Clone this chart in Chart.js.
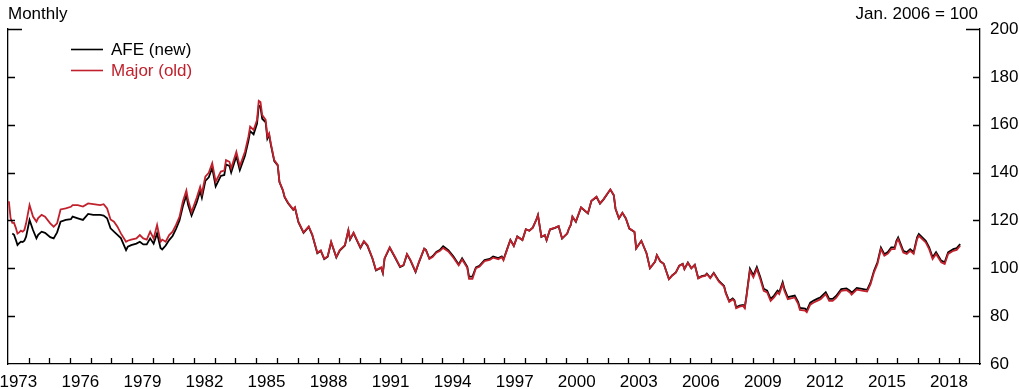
<!DOCTYPE html>
<html>
<head>
<meta charset="utf-8">
<script src="https://cdn.jsdelivr.net/npm/chart.js@4.4.1/dist/chart.umd.min.js"></script>
<style>
  html, body { margin: 0; padding: 0; background: #fff; }
  #wrap { position: relative; width: 1019px; height: 389px; }
</style>
</head>
<body>
<div id="wrap"><canvas id="chart" width="1019" height="389"></canvas></div>
<script>
'use strict';

/* ---- data (one line per year) ---- */
var months = [
  '1973-01','1973-02','1973-03','1973-04','1973-05','1973-06','1973-07','1973-08','1973-09','1973-10','1973-11',
  '1974-01','1974-03','1974-05','1974-06','1974-08','1974-10',
  '1975-01','1975-03','1975-05','1975-07','1975-10',
  '1976-01','1976-02','1976-05','1976-08','1976-11',
  '1977-02','1977-06','1977-08','1977-10','1977-12',
  '1978-02','1978-04','1978-06','1978-09','1978-10','1978-12',
  '1979-03','1979-05','1979-07','1979-09','1979-11',
  '1980-01','1980-03','1980-05','1980-06','1980-08','1980-10','1980-12',
  '1981-02','1981-04','1981-06','1981-08','1981-09','1981-11',
  '1982-02','1982-04','1982-05','1982-07','1982-09','1982-11',
  '1983-01','1983-04','1983-06','1983-07','1983-09','1983-10',
  '1984-01','1984-03','1984-06','1984-08','1984-09','1984-11',
  '1985-01','1985-02','1985-03','1985-04','1985-06','1985-07','1985-08','1985-09','1985-11',
  '1986-01','1986-02','1986-04','1986-05','1986-07','1986-10','1986-11',
  '1987-01','1987-04','1987-07','1987-09','1987-12',
  '1988-02','1988-04','1988-06','1988-08','1988-11',
  '1989-01','1989-04','1989-06','1989-07','1989-09','1989-11',
  '1990-01','1990-03','1990-05','1990-08','1990-10',
  '1991-01','1991-02','1991-03','1991-06','1991-09','1991-12',
  '1992-02','1992-04','1992-06','1992-09','1992-11',
  '1993-02','1993-03','1993-05','1993-07','1993-09','1993-11',
  '1994-01','1994-04','1994-07','1994-10','1994-12',
  '1995-03','1995-04','1995-06','1995-08','1995-10',
  '1996-01','1996-04','1996-06','1996-09','1996-11','1996-12',
  '1997-02','1997-04','1997-06','1997-08','1997-11',
  '1998-01','1998-03','1998-05','1998-07','1998-08','1998-10','1998-12',
  '1999-01','1999-03','1999-06','1999-08','1999-10',
  '2000-01','2000-02','2000-03','2000-04','2000-06','2000-09',
  '2001-01','2001-03','2001-06','2001-08','2001-10',
  '2002-02','2002-04','2002-05','2002-07','2002-09','2002-11',
  '2003-01','2003-04','2003-05','2003-08','2003-11',
  '2004-01','2004-04','2004-05','2004-07','2004-09','2004-12',
  '2005-02','2005-04','2005-06','2005-08','2005-09','2005-11',
  '2006-01','2006-03','2006-05','2006-07','2006-09','2006-10','2006-12',
  '2007-02','2007-05','2007-08','2007-09','2007-11',
  '2008-01','2008-02','2008-03','2008-05','2008-07','2008-08','2008-09','2008-11',
  '2009-01','2009-03','2009-05','2009-07','2009-09','2009-11',
  '2010-01','2010-03','2010-04','2010-06','2010-07','2010-09',
  '2011-01','2011-03','2011-04','2011-07','2011-08','2011-10','2011-12',
  '2012-02','2012-04','2012-07','2012-09','2012-11',
  '2013-01','2013-04','2013-07','2013-09','2013-10',
  '2014-01','2014-04','2014-07','2014-09','2014-11',
  '2015-01','2015-03','2015-05','2015-07','2015-09','2015-11','2015-12',
  '2016-01','2016-04','2016-06','2016-08','2016-10','2016-12',
  '2017-01','2017-03','2017-05','2017-07','2017-09','2017-11',
  '2018-02','2018-04','2018-06','2018-09','2018-11',
  '2019-01'
];

var afe = [
  null,null,114.5,114.0,112.0,109.7,110.5,111.1,111.0,111.5,113.2,
  120.2,116.0,112.5,114.0,115.3,114.8,
  113.0,112.5,115.0,119.5,120.2,
  120.5,121.6,120.9,120.2,122.7,
  122.3,122.3,122.0,120.9,116.7,
  115.3,114.0,112.6,107.6,109.0,109.7,
  110.3,111.1,110.0,110.0,112.5,
  110.3,114.6,108.5,107.9,109.5,111.8,113.5,
  116.5,120.0,126.0,130.5,126.5,122.0,
  127.5,132.3,129.5,136.5,138.0,142.0,
  134.2,138.6,139.0,143.4,142.8,140.0,
  146.8,141.0,147.0,153.3,157.3,156.0,
  160.5,168.0,167.5,162.5,161.0,154.2,155.8,151.7,144.8,
  143.0,136.0,132.5,129.7,127.2,124.4,125.3,
  119.3,114.8,117.3,114.0,106.3,
  107.3,103.8,104.8,110.9,104.5,
  107.4,109.5,115.8,112.0,114.7,111.6,
  108.5,111.2,109.5,104.0,99.1,
  100.2,98.0,104.0,108.6,104.6,100.5,
  101.2,105.8,103.3,98.4,102.6,
  108.2,107.7,104.1,105.1,106.8,107.6,
  109.2,107.6,104.9,101.6,104.2,
  100.6,96.5,96.5,100.4,101.0,
  103.4,103.9,104.9,104.3,105.0,103.7,
  107.8,111.9,109.4,113.3,111.8,
  116.3,115.7,117.0,120.2,122.2,113.1,113.8,
  111.7,116.2,116.9,117.6,112.4,
  114.5,116.6,118.0,121.5,119.4,125.4,
  122.9,128.1,129.8,127.0,128.7,
  132.9,130.5,124.9,120.8,123.1,120.8,
  116.6,115.2,108.3,111.5,106.3,
  100.0,102.8,105.5,102.9,101.9,95.5,
  97.1,98.3,101.1,101.9,99.7,102.4,
  100.0,101.5,95.9,96.7,97.0,97.8,96.0,
  98.1,94.7,92.6,89.8,86.3,
  87.4,86.7,83.7,84.4,84.7,83.7,88.6,99.8,
  97.0,100.5,96.3,91.4,90.7,87.2,
  88.6,90.7,90.0,94.2,91.4,87.9,
  88.6,85.9,83.4,83.1,82.4,85.6,86.5,
  87.2,87.9,90.0,87.2,87.2,
  88.4,91.3,91.6,90.6,89.7,
  91.8,91.4,91.0,94.1,99.0,
  102.5,108.7,105.9,106.8,108.7,108.7,111.5,
  112.9,107.3,106.7,108.0,106.7,112.9,
  114.3,112.9,111.5,108.7,104.6,106.7,
  103.2,102.5,106.7,108.0,108.4,
  110.1
];

var major = [
  128.0,121.0,119.0,119.0,117.0,114.5,115.0,115.7,115.3,116.0,118.8,
  126.4,121.6,119.5,121.0,122.3,121.6,
  118.8,117.4,118.8,124.6,125.0,
  125.7,126.4,126.4,125.8,127.1,
  126.8,126.4,126.8,125.0,120.4,
  119.5,117.4,114.6,111.1,111.5,112.0,
  112.5,113.9,112.5,112.0,115.3,
  112.5,118.1,111.1,112.0,111.1,113.9,115.3,
  118.1,121.5,128.0,132.5,128.5,123.5,
  129.5,134.1,131.3,138.3,139.9,143.9,
  136.2,140.4,140.8,145.2,144.5,141.8,
  148.7,142.7,148.7,155.0,159.2,157.8,
  162.0,170.0,169.5,164.0,162.0,155.0,156.4,152.2,145.2,
  143.2,136.2,132.7,129.9,127.4,124.6,125.5,
  119.5,115.0,117.5,114.2,106.5,
  107.5,104.0,105.0,111.1,104.7,
  107.6,109.7,116.0,112.2,114.9,111.8,
  108.7,111.4,109.7,104.2,99.3,
  100.4,98.2,104.2,108.8,104.8,100.7,
  101.4,106.0,103.5,98.6,102.8,
  108.2,107.6,103.9,104.8,106.5,107.2,
  108.5,107.0,104.4,101.2,103.7,
  100.2,95.6,95.6,100.0,100.6,
  103.0,103.5,104.4,103.8,104.6,103.3,
  107.6,111.8,109.3,113.2,111.8,
  116.3,115.7,117.0,120.2,122.3,113.2,113.9,
  111.8,116.3,117.0,117.7,112.5,
  114.6,116.7,118.1,121.6,119.5,125.5,
  123.0,128.2,129.9,127.1,128.8,
  133.0,130.6,125.0,120.9,123.2,120.9,
  116.7,115.3,108.3,111.5,106.3,
  100.0,102.8,105.5,102.9,101.8,95.4,
  97.0,98.2,101.0,101.8,99.6,102.3,
  100.0,101.4,95.8,96.5,96.8,97.6,95.8,
  97.9,94.4,92.3,89.5,86.0,
  87.0,86.3,83.3,84.0,84.3,83.3,88.1,99.0,
  96.2,99.7,95.5,90.6,89.9,86.4,
  87.8,89.9,89.2,93.4,90.6,87.1,
  87.8,85.1,82.6,82.3,81.6,84.8,85.7,
  86.4,87.1,89.2,86.4,86.4,
  87.6,90.6,90.9,89.9,89.0,
  91.1,90.7,90.3,93.4,98.3,
  101.8,108.0,105.2,106.1,108.0,108.0,110.8,
  112.2,106.6,106.0,107.3,106.0,112.2,
  113.6,112.2,110.8,108.0,103.9,106.0,
  102.5,101.8,106.0,107.3,107.7,
  109.4
];

var xLabelYears = [1973, 1976, 1979, 1982, 1985, 1988, 1991, 1994, 1997, 2000, 2003, 2006, 2009, 2012, 2015, 2018];
var yTicks = [60, 80, 100, 120, 140, 160, 180, 200];

var RED = '#c0212c';
var FONT = '"Liberation Sans", Arial, Helvetica, sans-serif';
var FONT_SIZE = 17;

function monthToX(m) {
  var p = m.split('-');
  return +p[0] + (+p[1] - 0.5) / 12;
}

function toPoints(values) {
  return months.map(function (m, i) { return { x: monthToX(m), y: values[i] }; });
}

/* ---- inward tick marks, header texts and legend ---- */
var decorPlugin = {
  id: 'decor',
  afterDraw: function (chart) {
    var ctx = chart.ctx;
    var xs = chart.scales.x;
    var ys = chart.scales.y;
    var area = chart.chartArea;
    ctx.save();
    ctx.strokeStyle = '#000';
    ctx.lineWidth = 1.3;
    ctx.beginPath();
    for (var yr = 1974; yr <= 2019; yr++) {
      var px = Math.round(xs.getPixelForValue(yr)) + 0.5;
      ctx.moveTo(px, area.bottom);
      ctx.lineTo(px, area.bottom - 6);
    }
    yTicks.forEach(function (v) {
      if (v === 60) return;
      var py = Math.round(ys.getPixelForValue(v)) + 0.5;
      var len = v === 200 ? 14 : 7;
      ctx.moveTo(area.left, py);
      ctx.lineTo(area.left + len, py);
      ctx.moveTo(area.right, py);
      ctx.lineTo(area.right - len, py);
    });
    ctx.stroke();

    ctx.font = FONT_SIZE + 'px ' + FONT;
    ctx.textBaseline = 'alphabetic';
    ctx.fillStyle = '#000';
    ctx.textAlign = 'left';
    ctx.fillText('Monthly', 8, 19);
    ctx.textAlign = 'right';
    ctx.fillText('Jan. 2006 = 100', 978, 19);

    // legend
    var items = [
      { label: 'AFE (new)', color: '#000', y: 49 },
      { label: 'Major (old)', color: RED, y: 70 }
    ];
    ctx.textAlign = 'left';
    items.forEach(function (it) {
      ctx.strokeStyle = it.color;
      ctx.lineWidth = 1.6;
      ctx.beginPath();
      ctx.moveTo(71, it.y + 0.5);
      ctx.lineTo(103, it.y + 0.5);
      ctx.stroke();
      ctx.fillStyle = it.color;
      ctx.fillText(it.label, 111, it.y + 6);
    });
    ctx.restore();
  }
};

new Chart(document.getElementById('chart'), {
  type: 'line',
  data: {
    datasets: [
      {
        label: 'Major (old)',
        data: toPoints(major),
        borderColor: RED,
        order: 0
      },
      {
        label: 'AFE (new)',
        data: toPoints(afe),
        borderColor: '#000',
        order: 1
      }
    ]
  },
  options: {
    responsive: false,
    animation: false,
    layout: { padding: { top: 29 } },
    elements: {
      point: { radius: 0 },
      line: { borderWidth: 1.8, tension: 0, fill: false }
    },
    plugins: {
      legend: { display: false },
      tooltip: { enabled: false }
    },
    scales: {
      x: {
        type: 'linear',
        position: 'bottom',
        min: 1973,
        max: 2020,
        grid: { display: false, drawTicks: false },
        border: { display: true, color: '#000', width: 1.3 },
        afterBuildTicks: function (s) {
          s.ticks = xLabelYears.map(function (y) { return { value: y + 0.5 }; });
        },
        afterFit: function (s) {
          s.height = 25;
          s.paddingLeft = 0;
          s.paddingRight = 0;
        },
        ticks: {
          autoSkip: false,
          maxRotation: 0,
          padding: 8,
          color: '#000',
          font: { family: FONT, size: FONT_SIZE },
          callback: function (v) { return String(Math.floor(v)); }
        }
      },
      yL: {
        type: 'linear',
        position: 'left',
        min: 60,
        max: 200,
        grid: { display: false, drawTicks: false },
        border: { display: true, color: '#000', width: 1.3 },
        ticks: { display: false },
        afterFit: function (s) { s.width = 8; }
      },
      y: {
        type: 'linear',
        position: 'right',
        min: 60,
        max: 200,
        grid: { display: false, drawTicks: false },
        border: { display: true, color: '#000', width: 1.3 },
        afterBuildTicks: function (s) {
          s.ticks = yTicks.map(function (v) { return { value: v }; });
        },
        afterFit: function (s) {
          s.width = 39;
          s.paddingTop = 0;
          s.paddingBottom = 0;
        },
        ticks: {
          padding: 10,
          color: '#000',
          font: { family: FONT, size: FONT_SIZE }
        }
      }
    }
  },
  plugins: [decorPlugin]
});
</script>
</body>
</html>
